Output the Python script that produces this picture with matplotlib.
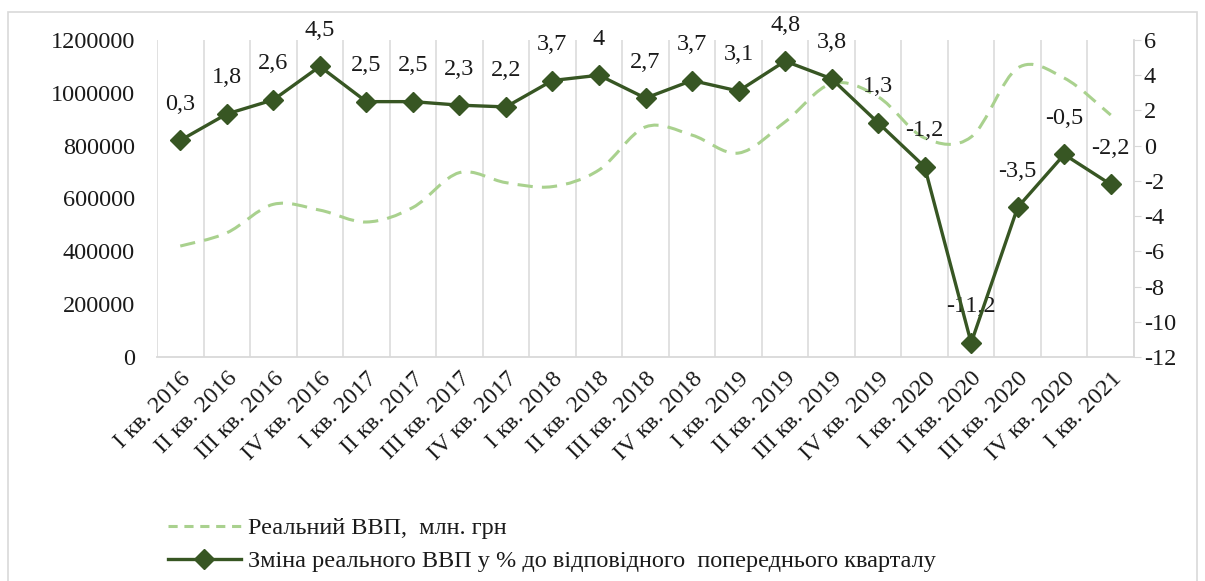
import numpy as np
import matplotlib
matplotlib.use("Agg")
import matplotlib.pyplot as plt
from matplotlib.path import Path
from matplotlib.patches import PathPatch, Rectangle
from matplotlib.lines import Line2D
from matplotlib.ticker import FuncFormatter

plt.rcParams['font.family'] = ['Liberation Serif', 'DejaVu Serif']
plt.rcParams['axes.unicode_minus'] = False

quarters = ['I кв. 2016', 'II кв. 2016', 'III кв. 2016', 'IV кв. 2016',
            'I кв. 2017', 'II кв. 2017', 'III кв. 2017', 'IV кв. 2017',
            'I кв. 2018', 'II кв. 2018', 'III кв. 2018', 'IV кв. 2018',
            'I кв. 2019', 'II кв. 2019', 'III кв. 2019', 'IV кв. 2019',
            'I кв. 2020', 'II кв. 2020', 'III кв. 2020', 'IV кв. 2020',
            'I кв. 2021']
real_gdp = [420000, 470000, 578000, 556000, 511000, 566000, 698000, 660000,
            645000, 708000, 871000, 840000, 772000, 890000, 1035000, 985000,
            829000, 833000, 1094000, 1056000, 916000]
gdp_change = [0.3, 1.8, 2.6, 4.5, 2.5, 2.5, 2.3, 2.2, 3.7, 4, 2.7, 3.7, 3.1,
              4.8, 3.8, 1.3, -1.2, -11.2, -3.5, -0.5, -2.2]

dark = '#375623'
light = '#a9d18e'
txt = '#1a1a1a'
fs = 17.5


def smooth_path(x, y):
    # excel-like smoothed line: catmull-rom segments as cubic beziers
    pts = np.column_stack([x, y]).astype(float)
    n = len(pts)
    verts = [pts[0]]
    codes = [Path.MOVETO]
    for i in range(n - 1):
        p0 = pts[max(i - 1, 0)]
        p1 = pts[i]
        p2 = pts[i + 1]
        p3 = pts[min(i + 2, n - 1)]
        verts += [p1 + (p2 - p0) / 6, p2 - (p3 - p1) / 6, p2]
        codes += [Path.CURVE4] * 3
    return Path(verts, codes)


fig = plt.figure(figsize=(12.05, 5.81), dpi=100)
fig.patches.append(Rectangle((8 / 1205, -0.01), 1189 / 1205, 1 - 12 / 581 + 0.01,
                             transform=fig.transFigure, fill=False,
                             edgecolor='#d9d9d9', linewidth=1.2))

ax = fig.add_axes([157 / 1205, 1 - 357 / 581, 977 / 1205, 317 / 581])
ax2 = ax.twinx()

x = np.arange(len(quarters))

patch = PathPatch(smooth_path(x, real_gdp), fill=False, edgecolor=light,
                  linewidth=2.2, linestyle=(0, (5, 3)), capstyle='butt')
ax.add_patch(patch)

ax2.plot(x, gdp_change, color=dark, linewidth=2.4, marker='D',
         markersize=10, markerfacecolor=dark, markeredgecolor=dark, zorder=5)
for xi, v in zip(x, gdp_change):
    lab = ('%g' % v).replace('.', ',')
    ax2.annotate(lab, (xi, v), xytext=(0, 26), textcoords='offset points',
                 ha='center', va='center', fontsize=fs, color=txt)

ax.set_xlim(-0.5, len(quarters) - 0.5)
ax.set_ylim(0, 1200000)
ax.set_yticks(np.arange(0, 1200001, 200000))
ax.yaxis.set_major_formatter(FuncFormatter(lambda v, p: '%d' % v))
ax2.set_ylim(-12, 6)
ax2.set_yticks(np.arange(-12, 7, 2))

for b in np.arange(-0.5, len(quarters), 1.0):
    ax.axvline(b, color='#d9d9d9', linewidth=1.1, zorder=0)

for s in ['top', 'left', 'right']:
    ax.spines[s].set_visible(False)
for s in ['top', 'left', 'bottom']:
    ax2.spines[s].set_visible(False)
ax.spines['bottom'].set_color('#d9d9d9')
ax.spines['bottom'].set_linewidth(1.3)
ax2.spines['right'].set_color('#d9d9d9')
ax2.spines['right'].set_linewidth(1.3)

ax.set_xticks(x)
ax.set_xticklabels(quarters, rotation=45, ha='right', rotation_mode='anchor',
                   fontsize=fs, color=txt)
ax.tick_params(axis='x', length=0, pad=8)
ax.tick_params(axis='y', length=0, labelsize=fs, labelcolor=txt, pad=16)
ax2.tick_params(axis='y', length=5, color='#d9d9d9', labelsize=fs,
                labelcolor=txt, pad=2)

handles = [Line2D([], [], color=light, linewidth=2.2, linestyle=(0, (3, 2.2))),
           Line2D([], [], color=dark, linewidth=2.4, marker='D', markersize=10)]
labels = ['Реальний ВВП,  млн. грн',
          'Зміна реального ВВП у % до відповідного  попереднього кварталу']
fig.legend(handles, labels, loc='lower left', bbox_to_anchor=(153 / 1205, -0.01),
           frameon=False, fontsize=fs, handlelength=3.0, handletextpad=0.3,
           labelspacing=0.45, borderaxespad=0.2, labelcolor=txt)

fig.savefig('out.png', dpi=100)
